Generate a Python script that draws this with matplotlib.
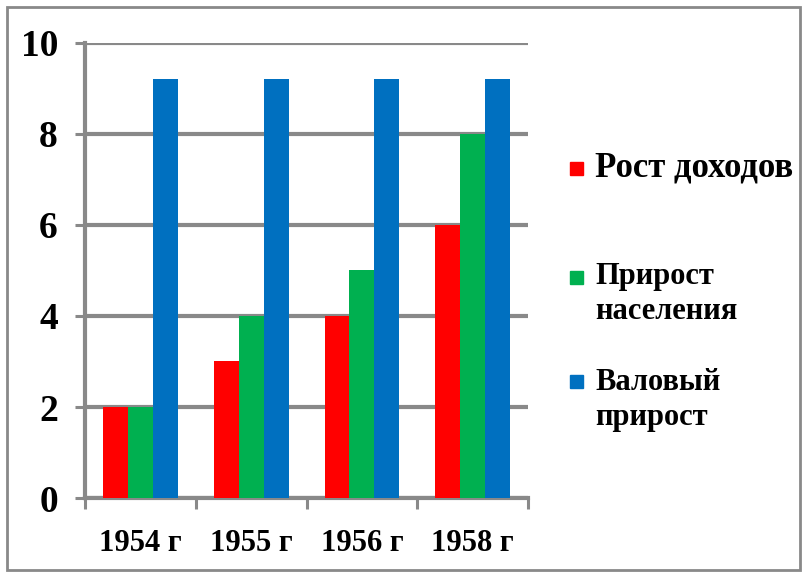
import numpy as np
import matplotlib.pyplot as plt
from matplotlib.patches import Rectangle

categories = ['1954 г', '1955 г', '1956 г', '1958 г']
income_growth = [2, 3, 4, 6]
population_growth = [2, 4, 5, 8]
gross_growth = [9.2, 9.2, 9.2, 9.2]
series_names = ['Рост доходов', 'Прирост\nнаселения', 'Валовый\nприрост']
series_colors = ['#FF0000', '#00B050', '#0070C0']
y_ticks = [0, 2, 4, 6, 8, 10]

plt.rcParams['font.family'] = ['Liberation Serif', 'DejaVu Serif']
plt.rcParams['font.weight'] = 'bold'

grey = '#898989'

fig = plt.figure(figsize=(8.05, 5.76), dpi=100)
ax = fig.add_axes([0.1056, 0.1354, 0.5503, 0.79])

x = np.arange(len(categories))
w = 0.225
for i, (vals, col) in enumerate(zip([income_growth, population_growth, gross_growth],
                                    series_colors)):
    ax.bar(x + (i - 1) * w, vals, width=w, color=col, lw=0, zorder=3)

ax.set_xlim(-0.5, len(categories) - 0.5)
ax.set_ylim(0, 10)
ax.set_yticks(y_ticks)
ax.set_yticklabels([str(t) for t in y_ticks], fontsize=27, fontweight='bold')
ax.yaxis.grid(True, color=grey, lw=3, zorder=1)
ax.set_axisbelow(True)

ax.set_xticks(x)
ax.set_xticklabels(categories, fontsize=22, fontweight='bold')
ax.set_xticks(np.arange(len(categories) + 1) - 0.5, minor=True)
ax.tick_params(axis='x', which='major', length=0, pad=22)
ax.tick_params(axis='x', which='minor', length=8, width=2.2, color=grey)
ax.tick_params(axis='y', length=7.5, width=2.2, color=grey, pad=12)

for s in ['top', 'right']:
    ax.spines[s].set_visible(False)
for s in ['left', 'bottom']:
    ax.spines[s].set_color(grey)
    ax.spines[s].set_linewidth(3)

# legend drawn by hand to match the uneven spacing
W, H = 805, 576
leg_y = [168, 294, 400]
sq_y = [168, 277, 381]
sizes = [25, 22, 22]
for name, col, ty, sy, fs in zip(series_names, series_colors, leg_y, sq_y, sizes):
    fig.patches.append(Rectangle((570 / W, 1 - (sy + 6.5) / H), 13 / W, 13 / H,
                                 transform=fig.transFigure, color=col))
    fig.text(595 / W, 1 - ty / H, name, fontsize=fs, fontweight='bold',
             va='center', ha='left', linespacing=1.3)

# outer frame
fig.patches.append(Rectangle((7 / W, 6 / H), 793 / W, 563 / H, transform=fig.transFigure,
                             fill=False, edgecolor=grey, lw=2))

fig.savefig('out.png', dpi=100)
